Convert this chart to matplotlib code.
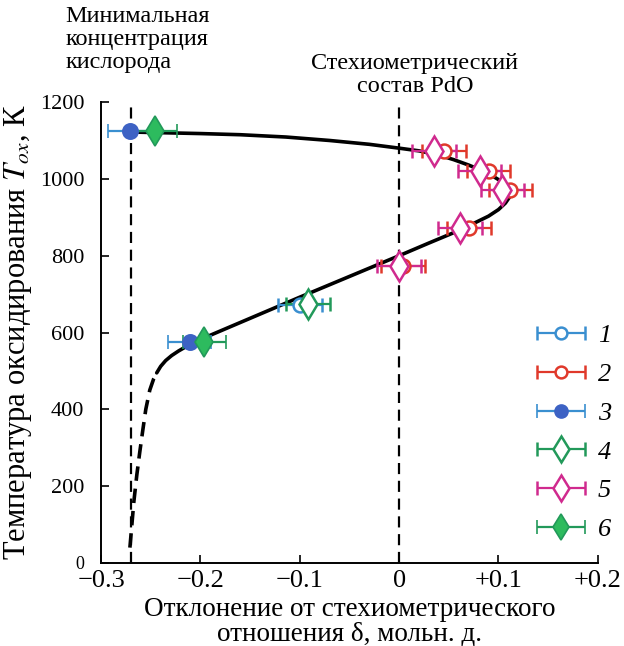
import numpy as np
import matplotlib
matplotlib.use("Agg")
from matplotlib import pyplot as plt
from matplotlib.container import ErrorbarContainer
from matplotlib.legend_handler import HandlerErrorbar

plt.rcParams['font.family'] = ['Liberation Serif', 'DejaVu Serif']
plt.rcParams['mathtext.fontset'] = 'stix'

# fitted curve (delta, T)
dash_x = [-0.271, -0.269, -0.267, -0.264, -0.261, -0.258, -0.255, -0.251, -0.247, -0.244]
dash_t = [40, 100, 160, 230, 290, 346, 400, 450, 480, 495]
curve_x = [-0.244, -0.240, -0.235, -0.229, -0.222, -0.212, -0.200, -0.150, -0.100,
           -0.050, 0.000, 0.030, 0.055, 0.075, 0.090, 0.100, 0.107, 0.111, 0.112,
           0.110, 0.104, 0.095, 0.085, 0.070, 0.055, 0.040, 0.020, 0.000, -0.030,
           -0.070, -0.114, -0.160, -0.200, -0.270]
curve_t = [495, 512, 527, 540, 552, 567, 582, 637, 692,
           746, 800, 833, 860, 884, 903, 920, 937, 952, 965,
           978, 992, 1006, 1020, 1036, 1050, 1062, 1073, 1080, 1090,
           1100, 1109, 1115, 1118, 1122]

# experimental points (delta, T)
s1_x, s1_t = [-0.100], [672]
s2_x, s2_t = [0.045, 0.090, 0.112, 0.070, 0.004], [1072, 1021, 971, 872, 774]
s3_x, s3_t = [-0.271, -0.211], [1125, 575]
s4_x, s4_t = [-0.092], [673]
s5_x, s5_t = [0.035, 0.081, 0.104, 0.061, 0.000], [1072, 1021, 971, 872, 774]
s6_x, s6_t = [-0.246, -0.196], [1124, 575]
err = 0.022

labels = ['1', '2', '3', '4', '5', '6']
blue = '#3a8fd0'
red = '#e0392b'
green = '#22995a'
magenta = '#d02a8e'

fig = plt.figure(figsize=(6.24, 6.46), dpi=100)
ax = fig.add_axes([0.162, 0.1285, 0.796, 0.7135])

ax.axvline(-0.27, color='black', lw=1.6, ls=(0, (5, 3)), zorder=1)
ax.axvline(0.0, color='black', lw=1.6, ls=(0, (5, 3)), zorder=1)

ax.plot(curve_x, curve_t, color='black', lw=2.6, solid_capstyle='round',
        solid_joinstyle='round', zorder=2)
ax.plot(dash_x, dash_t, color='black', lw=2.6, ls=(0, (4, 2.2)), zorder=2)

common = dict(capsize=5, capthick=1.6, elinewidth=1.6, ls='none', zorder=3)
h = []
h.append(ax.errorbar(s1_x, s1_t, xerr=err, marker='o', ms=10, mfc='white', mec=blue,
                     mew=1.8, color=blue, **common))
h.append(ax.errorbar(s2_x, s2_t, xerr=err, marker='o', ms=10, mfc='white', mec=red,
                     mew=1.8, color=red, **common))
h.append(ax.errorbar(s3_x, s3_t, xerr=err, marker='o', ms=11, mfc='#3d62c4', mec='#3d62c4',
                     mew=1.2, color=blue, **common))
h.append(ax.errorbar(s4_x, s4_t, xerr=err, marker='d', ms=15, mfc='white', mec=green,
                     mew=1.8, color=green, **common))
h.append(ax.errorbar(s5_x, s5_t, xerr=err, marker='d', ms=15, mfc='white', mec=magenta,
                     mew=1.8, color=magenta, **common))
h.append(ax.errorbar(s6_x, s6_t, xerr=err, marker='d', ms=15, mfc='#2dbb5e', mec=green,
                     mew=1.2, color=green, **common))

leg = ax.legend(h, labels, loc='center right', bbox_to_anchor=(1.075, 0.283), frameon=False,
                handlelength=1.9, handletextpad=0.45, labelspacing=0.58, markerscale=0.85,
                handler_map={ErrorbarContainer: HandlerErrorbar(xerr_size=0.9)},
                prop={'family': 'Liberation Serif', 'style': 'italic', 'size': 19})

ax.set_xlim(-0.3, 0.2)
ax.set_ylim(0, 1200)
ax.set_xticks([-0.3, -0.2, -0.1, 0, 0.1, 0.2])
ax.set_xticklabels(['\u22120.3', '\u22120.2', '\u22120.1', '0', '+0.1', '+0.2'])
ax.set_yticks(range(0, 1201, 200))
ax.tick_params(direction='in', length=6, width=1.2, labelsize=16)
ax.tick_params(axis='y', pad=12)
ax.tick_params(axis='x', labelsize=19, pad=5)
ax.get_yticklabels()[0].set_fontsize(13)
for s in ['top', 'right']:
    ax.spines[s].set_visible(False)
for s in ['left', 'bottom']:
    ax.spines[s].set_linewidth(1.4)

ax.set_xlabel('Отклонение от стехиометрического\nотношения δ, мольн. д.', fontsize=19.5,
              linespacing=0.95, labelpad=4)
ax.set_ylabel('Температура оксидирования $T_{ox}$, К', fontsize=22, labelpad=4)

fig.text(0.105, 0.99, 'Минимальная\nконцентрация\nкислорода', ha='left', va='top',
         fontsize=17.5, linespacing=1.1)
fig.text(0.665, 0.918, 'Стехиометрический\nсостав PdO', ha='center', va='top',
         fontsize=17.5, linespacing=1.1)

fig.savefig('out.png', dpi=100)
